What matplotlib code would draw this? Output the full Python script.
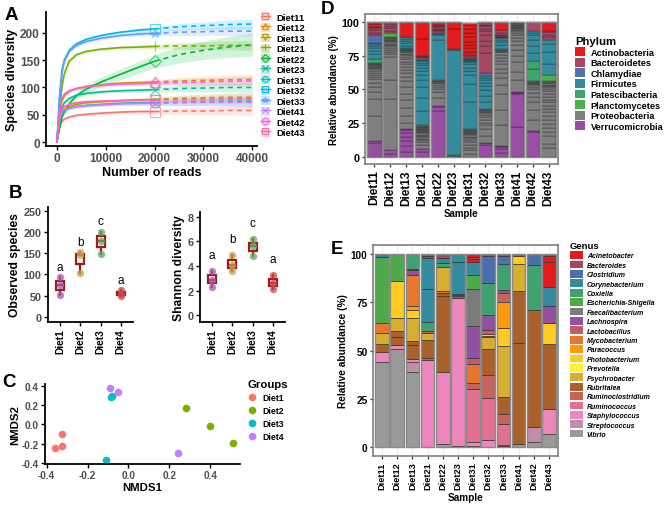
import numpy as np
import matplotlib.pyplot as plt
from matplotlib.patches import Patch
from matplotlib.lines import Line2D

plt.rcParams['font.family'] = ['Liberation Sans', 'DejaVu Sans']
plt.rcParams['font.weight'] = 'bold'
plt.rcParams['axes.labelweight'] = 'bold'

W, H = 669, 510

def box(x0, y0, x1, y1):
    # pixel box -> figure fraction rect
    return [x0 / W, 1 - y1 / H, (x1 - x0) / W, (y1 - y0) / H]

# ---------------- A: rarefaction curves
samples = ['Diet11', 'Diet12', 'Diet13', 'Diet21', 'Diet22', 'Diet23',
           'Diet31', 'Diet32', 'Diet33', 'Diet41', 'Diet42', 'Diet43']
sample_colors = ['#F8766D', '#DE8C00', '#B79F00', '#7CAE00', '#00BA38', '#00C08B',
                 '#00BFC4', '#00B4F0', '#619CFF', '#C77CFF', '#F564E3', '#FF64B0']
sample_markers = ['s', '^', 'v', '|', 'D', 'x', 'o', 's', '*', 'x', 'D', 's']
reads_obs = [1, 500, 1000, 1500, 2500, 4000, 6000, 9000, 13000, 17000, 20000]
reads_ext = [20000, 25000, 30000, 35000, 40000]
rich_obs = [
    [1, 28, 38, 42, 46, 49, 51, 53, 55, 56, 56],
    [1, 48, 75, 85, 93, 98, 102, 105, 108, 109, 110],
    [1, 40, 55, 60, 65, 69, 72, 74, 76, 77, 78],
    [1, 60, 100, 125, 148, 160, 166, 170, 173, 174, 175],
    [1, 25, 45, 55, 70, 85, 97, 110, 124, 138, 148],
    [1, 40, 62, 72, 80, 86, 89, 92, 94, 95, 96],
    [1, 38, 52, 58, 62, 65, 67, 69, 71, 72, 72],
    [1, 80, 130, 150, 168, 180, 188, 195, 201, 205, 207],
    [1, 75, 125, 148, 166, 177, 184, 190, 195, 198, 199],
    [1, 42, 55, 59, 62, 65, 67, 68, 70, 71, 71],
    [1, 52, 80, 88, 94, 98, 101, 104, 106, 107, 108],
    [1, 45, 60, 65, 69, 72, 74, 75, 76, 77, 77],
]
rich_ext = [
    [56, 57, 57, 58, 58],
    [110, 112, 113, 114, 115],
    [78, 80, 81, 82, 82],
    [175, 176, 176, 177, 177],
    [148, 160, 168, 174, 178],
    [96, 98, 99, 100, 100],
    [72, 73, 74, 75, 75],
    [207, 211, 213, 215, 216],
    [199, 201, 202, 203, 203],
    [71, 72, 73, 73, 73],
    [108, 109, 110, 111, 112],
    [77, 78, 78, 79, 79],
]
ci_obs = [0, 2, 3, 3, 3, 3, 3, 3, 3, 4, 4]
ci_ext = [4, 6, 7, 8, 9]
ci_obs_wide = [0, 3, 4, 5, 6, 7, 8, 9, 10, 11, 12]   # Diet22
ci_ext_wide = [12, 15, 17, 19, 21]

# ---------------- B: alpha diversity
groups = ['Diet1', 'Diet2', 'Diet3', 'Diet4']
group_pt_colors = ['#A35DB5', '#BFA244', '#5FAA5F', '#C94A4A']
obs_species = [[52, 75, 93], [103, 145, 152], [149, 180, 201], [50, 55, 63]]
shannon = [[2.3, 2.9, 3.6], [3.6, 4.1, 4.9], [4.8, 5.6, 6.2], [2.1, 2.6, 3.3]]
sig_letters = ['a', 'b', 'c', 'a']

# ---------------- C: NMDS
nmds_group = ['Diet1', 'Diet1', 'Diet1', 'Diet2', 'Diet2', 'Diet2',
              'Diet3', 'Diet3', 'Diet3', 'Diet4', 'Diet4', 'Diet4']
nmds1 = [-0.36, -0.325, -0.323, 0.28, 0.397, 0.513, -0.08, -0.085, -0.109, -0.088, -0.052, 0.243]
nmds2 = [-0.24, -0.228, -0.098, 0.17, -0.017, -0.19, 0.296, 0.285, -0.369, 0.379, 0.337, -0.299]
nmds_colors = ['#F8766D', '#7CAE00', '#00BFC4', '#C77CFF']

# ---------------- D: phylum composition (segments bottom -> top)
bar_samples = samples
phyla = ['Actinobacteria', 'Bacteroidetes', 'Chlamydiae', 'Firmicutes',
         'Patescibacteria', 'Planctomycetes', 'Proteobacteria', 'Verrucomicrobia']
phylum_codes = ['Act', 'Bac', 'Chl', 'Fir', 'Pat', 'Pla', 'Pro', 'Ver']
phylum_colors = ['#E41A1C', '#A94763', '#5670AC', '#348D9F',
                 '#3FA36D', '#4DAF4A', '#7F7F7F', '#984EA3']
d_diet11 = [('Ver', [10.5, 1.5]),
            ('Pro', [18, 13, 5, 4, 3, 2.5, 2, 1.5, 1.5, 1.5, 1, 1, 1, 0.5, 0.5, 0.5, 0.5, 0.5]),
            ('Pat', [3]), ('Fir', [4, 2, 2, 1.5, 1.5, 1]), ('Chl', [5.5]),
            ('Bac', [2, 2, 1.5, 1]), ('Act', [2, 1.5])]
d_diet12 = [('Ver', [2.5, 2.5]),
            ('Pro', [38, 14, 17, 2, 2, 1.5, 1.5, 1, 1, 1, 1, 1, 0.5, 0.5, 0.5, 0.5]),
            ('Fir', [1]), ('Pla', [2.5]), ('Bac', [2, 2, 1.5, 1.5, 1.5])]
d_diet13 = [('Ver', [4, 4, 4, 3, 3, 2, 1]),
            ('Pro', [4, 5, 6, 6, 5, 5, 4, 3, 3, 2.5, 2, 2, 2, 2, 1.5, 1.5, 1, 1, 0.5, 0.5]),
            ('Fir', [0.5, 0.5, 0.5, 0.5, 2, 2, 1.5, 1.5, 1]), ('Act', [0.5, 11])]
d_diet21 = [('Ver', [3.5, 2.5]),
            ('Pro', [3, 2, 1.5, 1, 1, 1, 1, 1, 1, 0.5, 0.5, 0.5, 0.5, 0.5, 0.5, 0.5, 0.5, 0.5]),
            ('Pla', [1]), ('Fir', [10, 10, 8, 5, 4, 3, 2, 2, 1.5, 1.5, 0.5, 0.5]),
            ('Bac', [1, 1, 0.5, 0.5]), ('Act', [12.5, 12.5])]
d_diet22 = [('Ver', [34, 3, 1]),
            ('Pro', [6, 4, 2, 1.5, 1.5, 1.5, 0.5, 0.5, 0.5, 0.5, 0.5]),
            ('Fir', [30, 3, 1, 1]), ('Bac', [1, 1, 1, 1, 1, 0.5]), ('Act', [2.5])]
d_diet23 = [('Pro', [0.5, 0.5, 0.5]), ('Fir', [77.5, 0.5, 0.5]), ('Act', [15, 5])]
d_diet31 = [('Pro', [2, 3, 2, 2, 2, 1.5, 1.5, 1, 1, 1, 0.5, 0.5, 0.5, 0.5, 0.5, 0.5, 0.5, 0.5]),
            ('Fir', [20, 13, 7, 2.5, 2.5, 2.5, 1.5, 1, 0.5, 0.5, 0.5]),
            ('Bac', [1, 1, 1]), ('Act', [2.5, 2.5, 2.5, 2.5, 3, 3, 3, 3, 2])]
d_diet32 = [('Ver', [9, 1, 0.5]),
            ('Pro', [5, 5, 3, 2, 2, 2, 1.5, 1.5, 1, 0.5, 0.5, 0.5, 0.5]),
            ('Fir', [5, 5, 4, 3, 2.5, 2, 1.5, 1.5]), ('Chl', [2]),
            ('Bac', [15, 5, 4, 4, 3, 2, 2, 1, 1, 1])]
d_diet33 = [('Ver', [3, 3, 1.5, 0.5, 0.5]),
            ('Pro', [15, 11, 12, 7, 5, 4, 3, 3, 2.5, 2.5, 2, 2, 0.5, 0.5, 0.5, 0.5, 0.5]),
            ('Fir', [3, 2, 2, 1]), ('Bac', [0.5, 0.5, 0.5, 0.5, 2, 2]), ('Act', [6])]
d_diet41 = [('Ver', [22, 24.5, 1, 0.5]),
            ('Pro', [9, 6, 7, 5, 4, 4, 3, 2, 2, 2, 1, 1, 1,
                     0.5, 0.5, 0.5, 0.5, 0.5, 0.5, 0.5, 0.5, 0.5, 0.5])]
d_diet42 = [('Ver', [18.5, 1]),
            ('Pro', [8, 7, 6, 4, 3, 2.5, 2, 1, 1, 0.5, 0.5, 0.5, 0.5]),
            ('Pat', [9, 6]), ('Fir', [6, 5, 5, 3, 2, 1.5]), ('Bac', [6.5])]
d_diet43 = [('Pro', [6.5, 3, 6, 3, 3, 3, 3, 3, 2.5, 2.5, 2.5, 2.5, 2, 2, 2, 2, 1.5, 1.5,
                     1, 1, 1, 0.5, 0.5, 0.5]),
            ('Pla', [4.5]), ('Fir', [8, 9, 6, 3]), ('Bac', [2, 2, 2, 1]), ('Act', [6.5])]
d_bars = [d_diet11, d_diet12, d_diet13, d_diet21, d_diet22, d_diet23,
          d_diet31, d_diet32, d_diet33, d_diet41, d_diet42, d_diet43]

# ---------------- E: genus composition (segments bottom -> top)
genera = ['Acinetobacter', 'Bacteroides', 'Clostridium', 'Corynebacterium', 'Coxiella',
          'Escherichia-Shigella', 'Faecalibacterium', 'Lachnospira', 'Lactobacillus',
          'Mycobacterium', 'Paracoccus', 'Photobacterium', 'Prevotella', 'Psychrobacter',
          'Rubritalea', 'Ruminoclostridium', 'Ruminococcus', 'Staphylococcus',
          'Streptococcus', 'Vibrio']
genus_colors = ['#E41A1C', '#A6475F', '#4A6FAA', '#348B9E', '#3FA070',
                '#4DAA4A', '#7B7B7B', '#9150A0', '#C35A6B', '#E8762C',
                '#FF9910', '#FFCC24', '#FFF030', '#D6AE32', '#A9602A',
                '#C4645C', '#E0728F', '#EE86BE', '#C18DAA', '#999999']
e_diet11 = [('Vibrio', 44), ('Staphylococcus', 5), ('Rubritalea', 4.5), ('Psychrobacter', 5.5),
            ('Mycobacterium', 5), ('Escherichia-Shigella', 34.5), ('Clostridium', 1.5)]
e_diet12 = [('Vibrio', 51), ('Staphylococcus', 2), ('Rubritalea', 4), ('Rubritalea', 3),
            ('Psychrobacter', 7), ('Photobacterium', 19), ('Escherichia-Shigella', 14)]
e_diet13 = [('Vibrio', 39), ('Streptococcus', 5), ('Staphylococcus', 1.5), ('Rubritalea', 7.5),
            ('Rubritalea', 2), ('Psychrobacter', 12), ('Photobacterium', 4), ('Paracoccus', 2),
            ('Mycobacterium', 16), ('Lachnospira', 2.5), ('Lactobacillus', 1), ('Coxiella', 7.5)]
e_diet21 = [('Staphylococcus', 45), ('Ruminoclostridium', 1), ('Rubritalea', 9.5),
            ('Psychrobacter', 3.5), ('Lactobacillus', 1), ('Coxiella', 5),
            ('Corynebacterium', 17), ('Corynebacterium', 16), ('Bacteroides', 1), ('Clostridium', 1)]
e_diet22 = [('Vibrio', 1.5), ('Staphylococcus', 37.5), ('Rubritalea', 39.5), ('Rubritalea', 1.5),
            ('Mycobacterium', 1), ('Psychrobacter', 12.5), ('Coxiella', 2),
            ('Corynebacterium', 2.5), ('Bacteroides', 2)]
e_diet23 = [('Vibrio', 0.5), ('Staphylococcus', 76.5), ('Rubritalea', 1.5), ('Faecalibacterium', 0.5),
            ('Faecalibacterium', 0.5), ('Corynebacterium', 16.5), ('Corynebacterium', 4)]
e_diet31 = [('Vibrio', 0.5), ('Staphylococcus', 2), ('Ruminococcus', 27.5), ('Ruminoclostridium', 3),
            ('Mycobacterium', 10), ('Lactobacillus', 3), ('Lachnospira', 16.5),
            ('Faecalibacterium', 19.5), ('Escherichia-Shigella', 7), ('Corynebacterium', 7),
            ('Acinetobacter', 1.5), ('Bacteroides', 1), ('Acinetobacter', 1.5)]
e_diet32 = [('Staphylococcus', 3.5), ('Ruminococcus', 22), ('Ruminoclostridium', 12),
            ('Rubritalea', 13.5), ('Psychrobacter', 6), ('Faecalibacterium', 0.5),
            ('Photobacterium', 1), ('Lactobacillus', 2), ('Lachnospira', 8), ('Coxiella', 16.5),
            ('Clostridium', 14), ('Bacteroides', 1)]
e_diet33 = [('Vibrio', 0.5), ('Lactobacillus', 0.5), ('Ruminococcus', 11), ('Ruminoclostridium', 5),
            ('Rubritalea', 9), ('Psychrobacter', 26.5), ('Photobacterium', 9), ('Paracoccus', 13.5),
            ('Ruminoclostridium', 5), ('Lachnospira', 1.5), ('Coxiella', 13.5), ('Clostridium', 4),
            ('Bacteroides', 1)]
e_diet41 = [('Vibrio', 1.5), ('Rubritalea', 52.5), ('Rubritalea', 27), ('Psychrobacter', 14),
            ('Photobacterium', 4), ('Rubritalea', 1)]
e_diet42 = [('Vibrio', 2.5), ('Streptococcus', 8), ('Rubritalea', 60.5), ('Coxiella', 23.5),
            ('Clostridium', 5.5)]
e_diet43 = [('Vibrio', 6.5), ('Staphylococcus', 13), ('Rubritalea', 34), ('Photobacterium', 10.5),
            ('Lachnospira', 9), ('Corynebacterium', 10), ('Acinetobacter', 13),
            ('Acinetobacter', 3), ('Bacteroides', 1)]
e_bars = [e_diet11, e_diet12, e_diet13, e_diet21, e_diet22, e_diet23,
          e_diet31, e_diet32, e_diet33, e_diet41, e_diet42, e_diet43]

tick_gray = '#4D4D4D'

fig = plt.figure(figsize=(W / 100, H / 100), dpi=100)


def classic(ax, fs):
    for s in ['top', 'right']:
        ax.spines[s].set_visible(False)
    for s in ['left', 'bottom']:
        ax.spines[s].set_linewidth(1.3)
    ax.tick_params(length=3, width=1, labelsize=fs, labelcolor=tick_gray, pad=1.5)


# ---- panel A
axA = fig.add_axes(box(46, 13, 257, 147))
for i, name in enumerate(samples):
    c = sample_colors[i]
    wide = name == 'Diet22'
    co = np.array(ci_obs_wide if wide else ci_obs)
    ce = np.array(ci_ext_wide if wide else ci_ext)
    yo = np.array(rich_obs[i])
    ye = np.array(rich_ext[i])
    axA.fill_between(reads_obs, yo - co, yo + co, color=c, alpha=0.18, lw=0)
    axA.fill_between(reads_ext, ye - ce, ye + ce, color=c, alpha=0.18, lw=0)
    axA.plot(reads_obs, yo, color=c, lw=1.2)
    axA.plot(reads_ext, ye, color=c, lw=1.2, ls=(0, (3, 2.5)))
    axA.plot([reads_obs[-1]], [yo[-1]], marker=sample_markers[i], color=c, mfc='none',
             ms=6.5, mew=0.9, alpha=0.6)
axA.set_xlim(-2250, 41000)
axA.set_ylim(-7, 238)
axA.set_xticks([0, 10000, 20000, 30000, 40000])
axA.set_yticks([0, 50, 100, 150, 200])
classic(axA, 8.5)
axA.set_xlabel('Number of reads', fontsize=9, labelpad=1)
axA.set_ylabel('Species diversity', fontsize=9, labelpad=1)

handlesA = [(Patch(facecolor=sample_colors[i], alpha=0.3, lw=0),
             Line2D([], [], color=sample_colors[i], lw=1, marker=sample_markers[i],
                    mfc='none', ms=4, mew=0.7))
            for i in range(len(samples))]
fig.legend(handlesA, samples, loc='upper left', bbox_to_anchor=(261 / W, 1 - 13 / H),
           frameon=False, prop={'size': 6.8, 'weight': 'bold'}, handlelength=0.9,
           handleheight=1.1, labelspacing=0.08, handletextpad=0.7, borderpad=0,
           borderaxespad=0)

# ---- panel B
box_c = '#9E1B1B'
for ax_rect, vals, ylab, ylim, yt, off in [
        (box(48, 208, 133, 323), obs_species, 'Observed species', (-12, 259),
         [0, 50, 100, 150, 200, 250], 25),
        (box(200, 213, 285, 323), shannon, 'Shannon diversity', (-0.55, 8.4),
         [0, 2, 4, 6, 8], 1.3)]:
    ax = fig.add_axes(ax_rect)
    pos = np.arange(1, len(groups) + 1)
    ax.boxplot(vals, positions=pos, widths=0.4, whis=(0, 100), patch_artist=True,
               showfliers=False,
               boxprops=dict(facecolor='white', edgecolor=box_c, lw=1.6),
               medianprops=dict(color=box_c, lw=1.6),
               whiskerprops=dict(color=box_c, lw=1.6),
               capprops=dict(lw=0))
    for g in range(len(groups)):
        ax.scatter([pos[g]] * len(vals[g]), vals[g], s=28, color=group_pt_colors[g],
                   alpha=0.75, lw=0, zorder=3)
        ax.text(pos[g], max(vals[g]) + off, sig_letters[g], ha='center', va='center',
                fontsize=8.5, fontweight='normal')
    ax.set_xlim(0.4, 4.6)
    ax.set_ylim(*ylim)
    ax.set_yticks(yt)
    ax.set_xticks(pos)
    ax.set_xticklabels(groups, rotation=90)
    classic(ax, 7.8)
    ax.tick_params(axis='x', labelcolor='black', labelsize=7.3)
    ax.set_ylabel(ylab, fontsize=8.7, labelpad=2)

# ---- panel C
axC = fig.add_axes(box(45, 385, 240, 465))
for g, name in enumerate(groups):
    xs = [x for x, gg in zip(nmds1, nmds_group) if gg == name]
    ys = [y for y, gg in zip(nmds2, nmds_group) if gg == name]
    axC.scatter(xs, ys, s=30, color=nmds_colors[g], lw=0, label=name)
axC.set_xlim(-0.408, 0.545)
axC.set_ylim(-0.41, 0.42)
axC.set_xticks([-0.4, -0.2, 0.0, 0.2, 0.4])
axC.set_yticks([-0.4, -0.2, 0.0, 0.2, 0.4])
axC.set_xticklabels(['-0.4', '-0.2', '0.0', '0.2', '0.4'])
axC.set_yticklabels(['-0.4', '-0.2', '0.0', '0.2', '0.4'])
classic(axC, 7.2)
axC.set_xlabel('NMDS1', fontsize=8.2, labelpad=1)
axC.set_ylabel('NMDS2', fontsize=8.2, labelpad=1)
handlesC = [Line2D([], [], ls='', marker='o', ms=5.5, color=c, mew=0) for c in nmds_colors]
fig.legend(handlesC, groups, loc='upper left', bbox_to_anchor=(248 / W, 1 - 380 / H),
           frameon=False, title='Groups', alignment='left',
           title_fontproperties={'size': 8.2, 'weight': 'bold'},
           prop={'size': 6.3, 'weight': 'bold'}, handlelength=1.0, handletextpad=0.6,
           labelspacing=0.45, borderpad=0, borderaxespad=0)


# ---- stacked bars (D and E)
def bar_panel(ax, colors_of, bars, lw, edge):
    for i, segs in enumerate(bars):
        heights, cols = [], []
        for key, parts in segs:
            for h in (parts if isinstance(parts, list) else [parts]):
                heights.append(h)
                cols.append(colors_of[key])
        bottoms = np.concatenate([[0], np.cumsum(heights)[:-1]])
        ax.bar([i + 1] * len(heights), heights, bottom=bottoms, width=0.9,
               color=cols, edgecolor=edge, lw=lw, zorder=2)
        # grey outline around the whole column
        ax.bar(i + 1, sum(heights), width=0.9, fill=False, edgecolor='#8A8A8A',
               lw=1.0, zorder=3)
    ax.set_xlim(0.4, len(bars) + 0.6)
    ax.set_xticks(np.arange(1, len(bars) + 1))
    ax.set_xticklabels(bar_samples, rotation=90)
    ax.set_yticks([0, 25, 50, 75, 100])
    ax.grid(True, color='#EBEBEB', lw=0.9, zorder=0)
    ax.set_axisbelow(True)
    for s in ax.spines.values():
        s.set_color('#7F7F7F')
        s.set_linewidth(1.2)
    ax.tick_params(length=2.5, width=0.9, color='#333333', labelcolor='black', pad=1.5)


axD = fig.add_axes(box(365, 15, 558, 165))
bar_panel(axD, dict(zip(phylum_codes, phylum_colors)), d_bars, 0.25, '#1A1A1A')
axD.set_ylim(-5.2, 105.9)
axD.tick_params(axis='x', labelsize=8.5)
axD.tick_params(axis='y', labelsize=7.8)
axD.set_xlabel('Sample', fontsize=7, labelpad=2)
axD.set_ylabel('Relative abundance (%)', fontsize=7, labelpad=2)
handlesD = [Patch(facecolor=c, lw=0) for c in phylum_colors]
fig.legend(handlesD, phyla, loc='upper left', bbox_to_anchor=(575 / W, 1 - 37 / H),
           frameon=False, title='Phylum', alignment='left',
           title_fontproperties={'size': 8.2, 'weight': 'bold'},
           prop={'size': 6.6, 'weight': 'bold'}, handlelength=1.1, handleheight=1.1,
           labelspacing=0.12, handletextpad=0.6, borderpad=0, borderaxespad=0)

axE = fig.add_axes(box(373, 246, 558, 457))
bar_panel(axE, dict(zip(genera, genus_colors)), e_bars, 0.5, '#333333')
axE.set_ylim(-4.7, 104.7)
axE.tick_params(axis='x', labelsize=6.6)
axE.tick_params(axis='y', labelsize=7.2)
axE.set_xlabel('Sample', fontsize=7.2, labelpad=2)
axE.set_ylabel('Relative abundance (%)', fontsize=7.3, labelpad=2)
handlesE = [Patch(facecolor=c, lw=0) for c in genus_colors]
fig.legend(handlesE, genera, loc='upper left', bbox_to_anchor=(570 / W, 1 - 242 / H),
           frameon=False, title='Genus', alignment='left',
           title_fontproperties={'size': 6.8, 'weight': 'bold'},
           prop={'size': 5, 'weight': 'bold', 'style': 'italic'}, handlelength=1.8,
           handleheight=1.35, labelspacing=0.17, handletextpad=0.6, borderpad=0,
           borderaxespad=0)

# ---- panel letters
for lab, x, y in [('A', 11, 16), ('B', 15, 193), ('C', 9, 383), ('D', 327, 10), ('E', 337, 250)]:
    fig.text(x / W, 1 - y / H, lab, fontsize=13.5, fontweight='bold', ha='center', va='center')

fig.savefig('out.png', dpi=100)
